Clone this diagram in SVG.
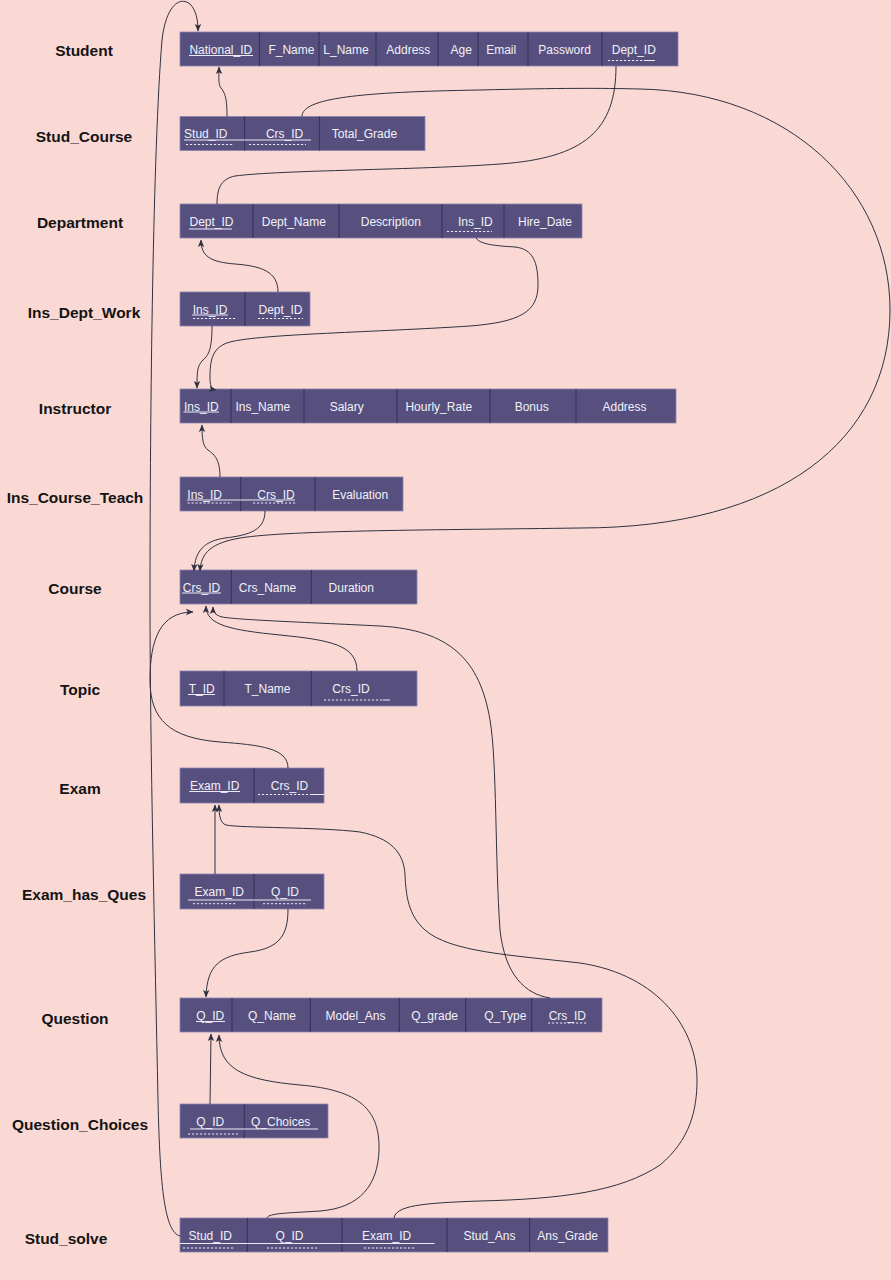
<svg xmlns="http://www.w3.org/2000/svg" width="891" height="1280" viewBox="0 0 891 1280">
<defs>
<marker id="arr" markerUnits="userSpaceOnUse" markerWidth="9" markerHeight="8" refX="7" refY="4" orient="auto">
<path d="M0,0.8 L7.5,4 L0,7.2 L1.8,4 z" fill="#2F3140"/>
</marker>
<style>
.bg{fill:#FAD9D5}
.box{fill:#57507F;stroke:#8A84B0;stroke-width:0.8}
.div{stroke:#3A355E;stroke-width:1.2}
.t{font-family:"Liberation Sans",Arial,sans-serif;font-size:12px;fill:#F1F0F8;text-anchor:middle}
.lbl{font-family:"Liberation Sans",Arial,sans-serif;font-size:15.5px;font-weight:bold;fill:#141414;text-anchor:middle}
.ul{stroke:#ECEAF6;stroke-width:1}
.fk{stroke:#ECEAF6;stroke-width:1;stroke-dasharray:2.2,1.8}
.c{fill:none;stroke:#2F3140;stroke-width:1}
.a{marker-end:url(#arr)}
</style>
</defs>
<rect class="bg" x="0" y="0" width="891" height="1280"/>

<g id="labels">
<text class="lbl" x="84" y="55.5">Student</text>
<text class="lbl" x="84" y="141.5">Stud_Course</text>
<text class="lbl" x="80" y="228">Department</text>
<text class="lbl" x="84" y="317.5">Ins_Dept_Work</text>
<text class="lbl" x="75" y="413.5">Instructor</text>
<text class="lbl" x="75" y="502.5">Ins_Course_Teach</text>
<text class="lbl" x="75" y="593.5">Course</text>
<text class="lbl" x="80" y="694.5">Topic</text>
<text class="lbl" x="80" y="793.5">Exam</text>
<text class="lbl" x="84" y="899.5">Exam_has_Ques</text>
<text class="lbl" x="75" y="1023.5">Question</text>
<text class="lbl" x="80" y="1129.5">Question_Choices</text>
<text class="lbl" x="66" y="1243.5">Stud_solve</text>
</g>

<g id="node-student">
<rect class="box" x="180" y="32" width="498" height="34"/>
<path class="div" d="M259.5,32V66M319,32V66M376,32V66M438,32V66M478,32V66M528,32V66M602,32V66"/>
<text class="t" x="220.8" y="53.5">National_ID</text>
<text class="t" x="291.4" y="53.5">F_Name</text>
<text class="t" x="346" y="53.5">L_Name</text>
<text class="t" x="408.3" y="53.5">Address</text>
<text class="t" x="461.3" y="53.5">Age</text>
<text class="t" x="501.2" y="53.5">Email</text>
<text class="t" x="564.6" y="53.5">Password</text>
<text class="t" x="633.8" y="53.5">Dept_ID</text>
<path class="ul" d="M189,55.5H253"/>
<path class="fk" d="M608,60.5H644"/>
<path class="ul" d="M644,60.5H655"/>
</g>

<g id="node-stud-course">
<rect class="box" x="180" y="116.5" width="245" height="34"/>
<path class="div" d="M244.5,116.5V150.5M319.5,116.5V150.5"/>
<text class="t" x="205.8" y="138">Stud_ID</text>
<text class="t" x="284.6" y="138">Crs_ID</text>
<text class="t" x="364.4" y="138">Total_Grade</text>
<path class="ul" d="M184,140H311"/>
<path class="fk" d="M186,144.5H234M249,144.5H306"/>
</g>

<g id="node-department">
<rect class="box" x="180" y="204" width="402" height="34"/>
<path class="div" d="M253,204V238M339,204V238M442,204V238M504,204V238"/>
<text class="t" x="211.5" y="225.5">Dept_ID</text>
<text class="t" x="293.8" y="225.5">Dept_Name</text>
<text class="t" x="390.8" y="225.5">Description</text>
<text class="t" x="475.3" y="225.5">Ins_ID</text>
<text class="t" x="545" y="225.5">Hire_Date</text>
<path class="ul" d="M189,229H232"/>
<path class="fk" d="M447,231.5H492"/>
</g>

<g id="node-ins-dept-work">
<rect class="box" x="180" y="292" width="130" height="34"/>
<path class="div" d="M245,292V326"/>
<text class="t" x="210" y="313.5">Ins_ID</text>
<text class="t" x="280.5" y="313.5">Dept_ID</text>
<path class="ul" d="M192,315H228"/>
<path class="fk" d="M193,318.5H236M258,318.5H303"/>
</g>

<g id="node-instructor">
<rect class="box" x="180" y="389" width="496" height="34"/>
<path class="div" d="M231,389V423M304,389V423M397,389V423M490,389V423M576,389V423"/>
<text class="t" x="201.3" y="410.5">Ins_ID</text>
<text class="t" x="262.8" y="410.5">Ins_Name</text>
<text class="t" x="346.7" y="410.5">Salary</text>
<text class="t" x="438.8" y="410.5">Hourly_Rate</text>
<text class="t" x="531.7" y="410.5">Bonus</text>
<text class="t" x="624.5" y="410.5">Address</text>
<path class="ul" d="M183.5,412H219"/>
</g>

<g id="node-ins-course-teach">
<rect class="box" x="180" y="477" width="223" height="34"/>
<path class="div" d="M240.7,477V511M315,477V511"/>
<text class="t" x="204.7" y="498.5">Ins_ID</text>
<text class="t" x="276" y="498.5">Crs_ID</text>
<text class="t" x="360.2" y="498.5">Evaluation</text>
<path class="ul" d="M187,500H295"/>
<path class="fk" d="M187.5,503H232M253,503H297"/>
</g>

<g id="node-course">
<rect class="box" x="180" y="570" width="237" height="34"/>
<path class="div" d="M231.3,570V604M311.3,570V604"/>
<text class="t" x="201.5" y="591.5">Crs_ID</text>
<text class="t" x="267.5" y="591.5">Crs_Name</text>
<text class="t" x="351.3" y="591.5">Duration</text>
<path class="ul" d="M182,593H221"/>
</g>

<g id="node-topic">
<rect class="box" x="180" y="671" width="237" height="35"/>
<path class="div" d="M224,671V706M311.3,671V706"/>
<text class="t" x="201.7" y="693">T_ID</text>
<text class="t" x="267.5" y="693">T_Name</text>
<text class="t" x="351" y="693">Crs_ID</text>
<path class="ul" d="M188,694.5H215"/>
<path class="fk" d="M324,700H383"/>
<path class="ul" d="M383,700H390"/>
</g>

<g id="node-exam">
<rect class="box" x="180" y="768" width="144" height="35"/>
<path class="div" d="M254,768V803"/>
<text class="t" x="214.7" y="790">Exam_ID</text>
<text class="t" x="289.5" y="790">Crs_ID</text>
<path class="ul" d="M189.3,791.5H240"/>
<path class="fk" d="M258,794.5H310"/>
<path class="ul" d="M310,794.5H324"/>
</g>

<g id="node-exam-has-ques">
<rect class="box" x="180" y="874" width="144" height="35"/>
<path class="div" d="M254,874V909"/>
<text class="t" x="219.3" y="896">Exam_ID</text>
<text class="t" x="285" y="896">Q_ID</text>
<path class="ul" d="M188,900H311"/>
<path class="fk" d="M193,903.7H237M263,903.7H307"/>
</g>

<g id="node-question">
<rect class="box" x="180" y="998" width="422" height="34"/>
<path class="div" d="M232,998V1032M310.3,998V1032M399.3,998V1032M465.7,998V1032M531.7,998V1032"/>
<text class="t" x="210.3" y="1019.5">Q_ID</text>
<text class="t" x="272" y="1019.5">Q_Name</text>
<text class="t" x="355.5" y="1019.5">Model_Ans</text>
<text class="t" x="434.7" y="1019.5">Q_grade</text>
<text class="t" x="505.3" y="1019.5">Q_Type</text>
<text class="t" x="567.3" y="1019.5">Crs_ID</text>
<path class="ul" d="M196,1021.5H225"/>
<path class="fk" d="M548,1023H587"/>
</g>

<g id="node-question-choices">
<rect class="box" x="180" y="1104" width="148" height="34"/>
<path class="div" d="M244.3,1104V1138"/>
<text class="t" x="210.3" y="1125.5">Q_ID</text>
<text class="t" x="280.7" y="1125.5">Q_Choices</text>
<path class="ul" d="M190,1129H318"/>
<path class="fk" d="M188,1134H238"/>
</g>

<g id="node-stud-solve">
<rect class="box" x="180" y="1218" width="428" height="34"/>
<path class="div" d="M247.3,1218V1252M342,1218V1252M447,1218V1252M529.6,1218V1252"/>
<text class="t" x="210.3" y="1239.5">Stud_ID</text>
<text class="t" x="289.5" y="1239.5">Q_ID</text>
<text class="t" x="386.6" y="1239.5">Exam_ID</text>
<text class="t" x="489.4" y="1239.5">Stud_Ans</text>
<text class="t" x="567.7" y="1239.5">Ans_Grade</text>
<path class="ul" d="M180,1243.5H434.5"/>
<path class="fk" d="M183,1248H234M267,1248H318M364,1248H414.5"/>
</g>

<g id="connectors">
<path class="c a" d="M180,1236 C165,1232 160,1190 158,1100 C155,950 150,750 150,600 C150,400 153,150 162,40 C166,5 180,-4 190,4 C196,10 198,20 198,31"/>
<path class="c a" d="M227,116.5 C227,98 225,93 221,88 C218,84 219,78 219,67"/>
<path class="c a" d="M302,116.5 C302,98 360,92 480,90 C560,88 600,88 640,89 C790,92 890,190 890,310 C890,440 780,528 580,528 C440,530 290,530 240,538 C212,543 201,552 200,571"/>
<path class="c" d="M616,66 C616,130 585,158 500,164 C420,170 280,170 235,176 C220,179 217,190 217,204"/>
<path class="c a" d="M278,292 C278,272 262,266 235,264 C210,262 201,256 201,240"/>
<path class="c a" d="M212,326 C212,348 209,355 203,360 C197,366 197,372 197,388"/>
<path class="c a" d="M476,238 C480,245 500,246 515,247 C533,249 538,262 538,285 C538,312 520,322 470,326 C380,332 260,334 230,342 C212,347 210,360 210,378 C210,385 211,389 216,390"/>
<path class="c a" d="M220,477 C220,460 215,455 208,450 C203,446 202,440 202,425"/>
<path class="c a" d="M265,511 C265,530 250,535 225,538 C205,541 195,550 194,571"/>
<path class="c a" d="M357,671 C357,645 330,640 280,635 C230,630 206,625 206,606"/>
<path class="c a" d="M550,998 C525,994 505,975 500,930 C495,860 497,760 490,720 C480,660 450,630 380,626 C300,622 240,620 222,617 C215,615 213,612 213,607"/>
<path class="c a" d="M288,768 C288,748 260,745 220,742 C170,738 150,720 150,680 C150,640 160,612 193,612"/>
<path class="c a" d="M215,874 L215,805"/>
<path class="c a" d="M394,1218 C396,1206 420,1203 480,1201 C560,1199 620,1192 660,1165 C690,1140 697,1110 697,1080 C697,1030 660,975 580,963 C510,955 450,952 425,930 C408,915 406,895 405,875 C404,852 390,838 360,832 C320,827 240,828 226,825 C220,823 219,815 219,805"/>
<path class="c a" d="M288,909 C288,935 280,948 250,952 C220,956 207,965 206,997"/>
<path class="c a" d="M210,1104 L211,1034"/>
<path class="c a" d="M267,1218 C268,1213 290,1213 320,1211 C360,1208 378,1185 379,1150 C380,1110 360,1090 300,1085 C245,1080 219,1070 219,1035"/>
</g>
</svg>
